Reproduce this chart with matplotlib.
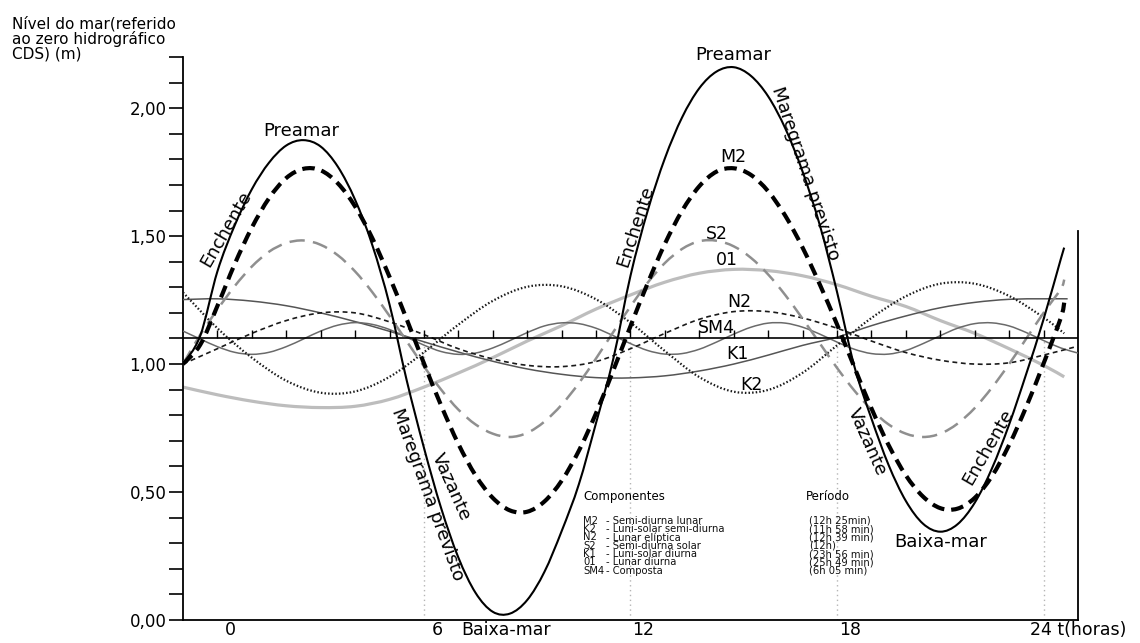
import matplotlib
matplotlib.use("Agg")
import matplotlib.pyplot as plt
from matplotlib.path import Path
from matplotlib.patches import PathPatch

plt.rcParams["font.family"] = "DejaVu Sans"
plt.rcParams["lines.scale_dashes"] = False

# hours (x) sampled every half hour / every hour
HOURS_HALF = [h / 2 for h in range(-2, 50)]          # -1 .. 24.5
HOURS_BIG = HOURS_HALF + [24.6]
HOURS_SM4 = HOURS_HALF + [25.0]
HOURS_ONE = list(range(-1, 25))                       # -1 .. 24

# predicted tide (solid) and main components, sea level in m
MAREGRAMA = [1.00, 1.11, 1.362, 1.541, 1.683, 1.787, 1.854, 1.875, 1.850, 1.771,
             1.642, 1.465, 1.233, 0.936, 0.673, 0.437, 0.244, 0.106, 0.032, 0.025,
             0.078, 0.188, 0.347, 0.530, 0.770, 1.020, 1.345, 1.599, 1.804, 1.964,
             2.078, 2.143, 2.160, 2.126, 2.046, 1.920, 1.752, 1.543, 1.282, 0.993,
             0.787, 0.605, 0.465, 0.376, 0.345, 0.374, 0.458, 0.592, 0.764, 0.963,
             1.175, 1.41, 1.455]
M2 = [1.00, 1.075, 1.227, 1.390, 1.533, 1.648, 1.727, 1.763, 1.757, 1.706,
      1.616, 1.492, 1.341, 1.175, 1.003, 0.838, 0.688, 0.565, 0.477, 0.428,
      0.423, 0.463, 0.544, 0.661, 0.808, 0.975, 1.148, 1.316, 1.470, 1.599,
      1.695, 1.752, 1.765, 1.739, 1.675, 1.579, 1.455, 1.311, 1.155, 0.989,
      0.827, 0.683, 0.565, 0.482, 0.437, 0.435, 0.477, 0.562, 0.684, 0.834,
      1.002, 1.18, 1.24]
S2 = [1.00, 1.114, 1.213, 1.304, 1.381, 1.439, 1.473, 1.483, 1.466, 1.425,
      1.362, 1.281, 1.188, 1.089, 0.991, 0.900, 0.822, 0.764, 0.728, 0.715,
      0.731, 0.775, 0.841, 0.925, 1.022, 1.125, 1.225, 1.318, 1.395, 1.450,
      1.480, 1.482, 1.460, 1.415, 1.350, 1.269, 1.177, 1.081, 0.985, 0.897,
      0.822, 0.764, 0.728, 0.715, 0.728, 0.767, 0.828, 0.908, 1.000, 1.100,
      1.200, 1.293, 1.33]
SM4 = [1.129, 1.098, 1.068, 1.046, 1.038, 1.046, 1.068, 1.098, 1.129, 1.152,
       1.162, 1.155, 1.135, 1.105, 1.074, 1.049, 1.038, 1.043, 1.063, 1.092,
       1.123, 1.149, 1.161, 1.158, 1.140, 1.111, 1.080, 1.053, 1.039, 1.041,
       1.058, 1.086, 1.117, 1.144, 1.160, 1.160, 1.144, 1.117, 1.086, 1.058,
       1.041, 1.039, 1.053, 1.080, 1.111, 1.140, 1.158, 1.161, 1.149, 1.123,
       1.092, 1.063, 1.043]

# smaller components, hourly, plus their own end point
K2 = [1.28, 1.14, 1.025, 0.935, 0.888, 0.893, 0.950, 1.046, 1.154, 1.247,
      1.302, 1.304, 1.253, 1.162, 1.051, 0.949, 0.892, 0.899, 0.966, 1.073,
      1.18, 1.265, 1.314, 1.314, 1.266, 1.182]
K2_END = [24.6, 1.12]
K1 = [1.252, 1.255, 1.246, 1.228, 1.200, 1.166, 1.128, 1.087, 1.047, 1.011,
      0.981, 0.960, 0.947, 0.946, 0.954, 0.973, 1.000, 1.035, 1.073, 1.105,
      1.150, 1.188, 1.220, 1.241, 1.253, 1.255]
K1_END = [24.7, 1.255]
N2 = [1.00, 1.06, 1.12, 1.17, 1.20, 1.20, 1.165, 1.115, 1.06, 1.02,
      0.995, 0.99, 1.01, 1.06, 1.12, 1.175, 1.205, 1.205, 1.18, 1.14,
      1.09, 1.045, 1.015, 1.00, 1.005, 1.035]
N2_END = [25.0, 1.07]
O1 = [0.91, 0.88, 0.855, 0.837, 0.83, 0.835, 0.862, 0.91, 0.965, 1.025,
      1.09, 1.15, 1.215, 1.27, 1.32, 1.355, 1.37, 1.365, 1.345, 1.31,
      1.265, 1.225, 1.17, 1.12, 1.06, 0.995]
O1_END = [24.6, 0.95]

NIVEL_MEDIO = 1.10
Y_TICKS = [0.0, 0.5, 1.0, 1.5, 2.0]
Y_LABELS = ["0,00", "0,50", "1,00", "1,50", "2,00"]
X_LABEL_HOURS = [0, 6, 12, 18]

COMP_CODES = ["M2", "K2", "N2", "S2", "K1", "01", "SM4"]
COMP_NAMES = ["Semi-diurna lunar", "Luni-solar semi-diurna", "Lunar elíptica",
              "Semi-diurna solar", "Luni-solar diurna", "Lunar diurna", "Composta"]
COMP_PERIODS = ["(12h 25min)", "(11h 58 min)", "(12h 39 min)", "(12h)",
                "(23h 56 min)", "(25h 49 min)", "(6h 05 min)"]


def smooth_path(xs, ys):
    # Catmull-Rom through the read points, as cubic Bezier segments
    pts = list(zip(xs, ys))
    n = len(pts)
    verts = [pts[0]]
    codes = [Path.MOVETO]
    for i in range(n - 1):
        p0 = pts[i - 1] if i > 0 else pts[i]
        p1, p2 = pts[i], pts[i + 1]
        p3 = pts[i + 2] if i + 2 < n else pts[i + 1]
        c1 = (p1[0] + (p2[0] - p0[0]) / 6, p1[1] + (p2[1] - p0[1]) / 6)
        c2 = (p2[0] - (p3[0] - p1[0]) / 6, p2[1] - (p3[1] - p1[1]) / 6)
        verts += [c1, c2, p2]
        codes += [Path.CURVE4] * 3
    return Path(verts, codes)


def curve(ax, xs, ys, **kw):
    ax.add_patch(PathPatch(smooth_path(xs, ys), fill=False, **kw))


fig = plt.figure(figsize=(11.4, 6.43), dpi=100)
ax = fig.add_axes([0.1605, 0.0358, 0.7851, 0.8756])
ax.set_xlim(-1, 25)
ax.set_ylim(0, 2.2)

# components
curve(ax, HOURS_ONE + [O1_END[0]], O1 + [O1_END[1]], edgecolor="#bdbdbd", lw=2.3, zorder=2)
curve(ax, HOURS_ONE + [K1_END[0]], K1 + [K1_END[1]], edgecolor="#555555", lw=1.1, zorder=3)
curve(ax, HOURS_SM4, SM4, edgecolor="#6a6a6a", lw=1.1, zorder=3)
curve(ax, HOURS_ONE + [N2_END[0]], N2 + [N2_END[1]], edgecolor="#1a1a1a", lw=1.2,
      linestyle=(0, (3.5, 2.6)), zorder=3)
curve(ax, HOURS_ONE + [K2_END[0]], K2 + [K2_END[1]], edgecolor="#1a1a1a", lw=1.6,
      linestyle=(0, (1.1, 1.5)), zorder=3)
curve(ax, HOURS_BIG, S2, edgecolor="#8f8f8f", lw=1.8, linestyle=(0, (11, 6)), zorder=4)
curve(ax, HOURS_BIG, M2, edgecolor="black", lw=3.0, linestyle=(0, (9, 5)), zorder=5)
curve(ax, HOURS_BIG, MAREGRAMA, edgecolor="black", lw=1.5, zorder=6)

# mean level line with hour ticks, and dotted guides
ax.plot([-1, 25], [NIVEL_MEDIO, NIVEL_MEDIO], color="black", lw=1.2, zorder=4)
ax.vlines(range(0, 25), NIVEL_MEDIO, NIVEL_MEDIO + 0.035, color="black", lw=1.0, zorder=4)
ax.vlines([6, 12, 18, 24], 0, NIVEL_MEDIO, color="#b5b5b5", lw=1.0,
          linestyles=(0, (1, 2.5)), zorder=1)

# axes frame
ax.spines["top"].set_visible(False)
ax.spines["right"].set_bounds(0, 1.52)
for s in ["left", "bottom", "right"]:
    ax.spines[s].set_linewidth(1.3)
ax.set_xticks([])
ax.set_yticks(Y_TICKS)
ax.set_yticklabels(Y_LABELS, fontsize=12)
ax.set_yticks([i / 10 for i in range(0, 23)], minor=True)
ax.tick_params(axis="y", which="both", direction="out", length=10, width=1.2, pad=2)

xt = ax.get_xaxis_transform()
for h in X_LABEL_HOURS:
    ax.text(h + 0.38, -0.018, str(h), transform=xt, ha="center", va="center", fontsize=12.5)
ax.text(23.6, -0.018, "24 t(horas)", transform=xt, ha="left", va="center", fontsize=12.5)
ax.text(8.39, -0.018, "Baixa-mar", transform=xt, ha="center", va="center", fontsize=12.5)

fig.text(12 / 1140, 1 - 16 / 643, "Nível do mar(referido\nao zero hidrográfico\nCDS) (m)",
         ha="left", va="top", fontsize=11, linespacing=0.95)

# annotations along the curves
lab = dict(ha="center", va="center", fontsize=13, rotation_mode="anchor")
ax.text(2.43, 1.91, "Preamar", **lab)
ax.text(15.0, 2.207, "Preamar", **lab)
ax.text(0.26, 1.53, "Enchente", rotation=60, **lab)
ax.text(12.15, 1.54, "Enchente", rotation=72, **lab)
ax.text(22.4, 0.675, "Enchente", rotation=60, **lab)
ax.text(17.07, 1.746, "Maregrama previsto", rotation=-71.5, **lab)
ax.text(6.1, 0.49, "Maregrama previsto", rotation=-70, **lab)
ax.text(6.78, 0.52, "Vazante", rotation=-66, **lab)
ax.text(18.87, 0.695, "Vazante", rotation=-66, **lab)
ax.text(21.0, 0.305, "Baixa-mar", **lab)

comp = dict(ha="center", va="center", fontsize=12.5)
ax.text(14.99, 1.81, "M2", **comp)
ax.text(14.5, 1.51, "S2", **comp)
ax.text(14.8, 1.406, "01", **comp)
ax.text(15.15, 1.242, "N2", **comp)
ax.text(14.5, 1.14, "SM4", **comp)
ax.text(15.1, 1.04, "K1", **comp)
ax.text(15.5, 0.92, "K2", **comp)

# component table
ax.text(10.62, 0.484, "Componentes", ha="left", va="center", fontsize=8.5)
ax.text(17.1, 0.484, "Período", ha="left", va="center", fontsize=8.5)
for i, (c, n, p) in enumerate(zip(COMP_CODES, COMP_NAMES, COMP_PERIODS)):
    y = 0.388 - i * 0.0326
    ax.text(10.62, y, c, ha="left", va="center", fontsize=7.2, color="#111111")
    ax.text(11.28, y, "- " + n, ha="left", va="center", fontsize=7.2, color="#111111")
    ax.text(17.18, y, p, ha="left", va="center", fontsize=7.2, color="#111111")

fig.savefig("out.png", dpi=100)
